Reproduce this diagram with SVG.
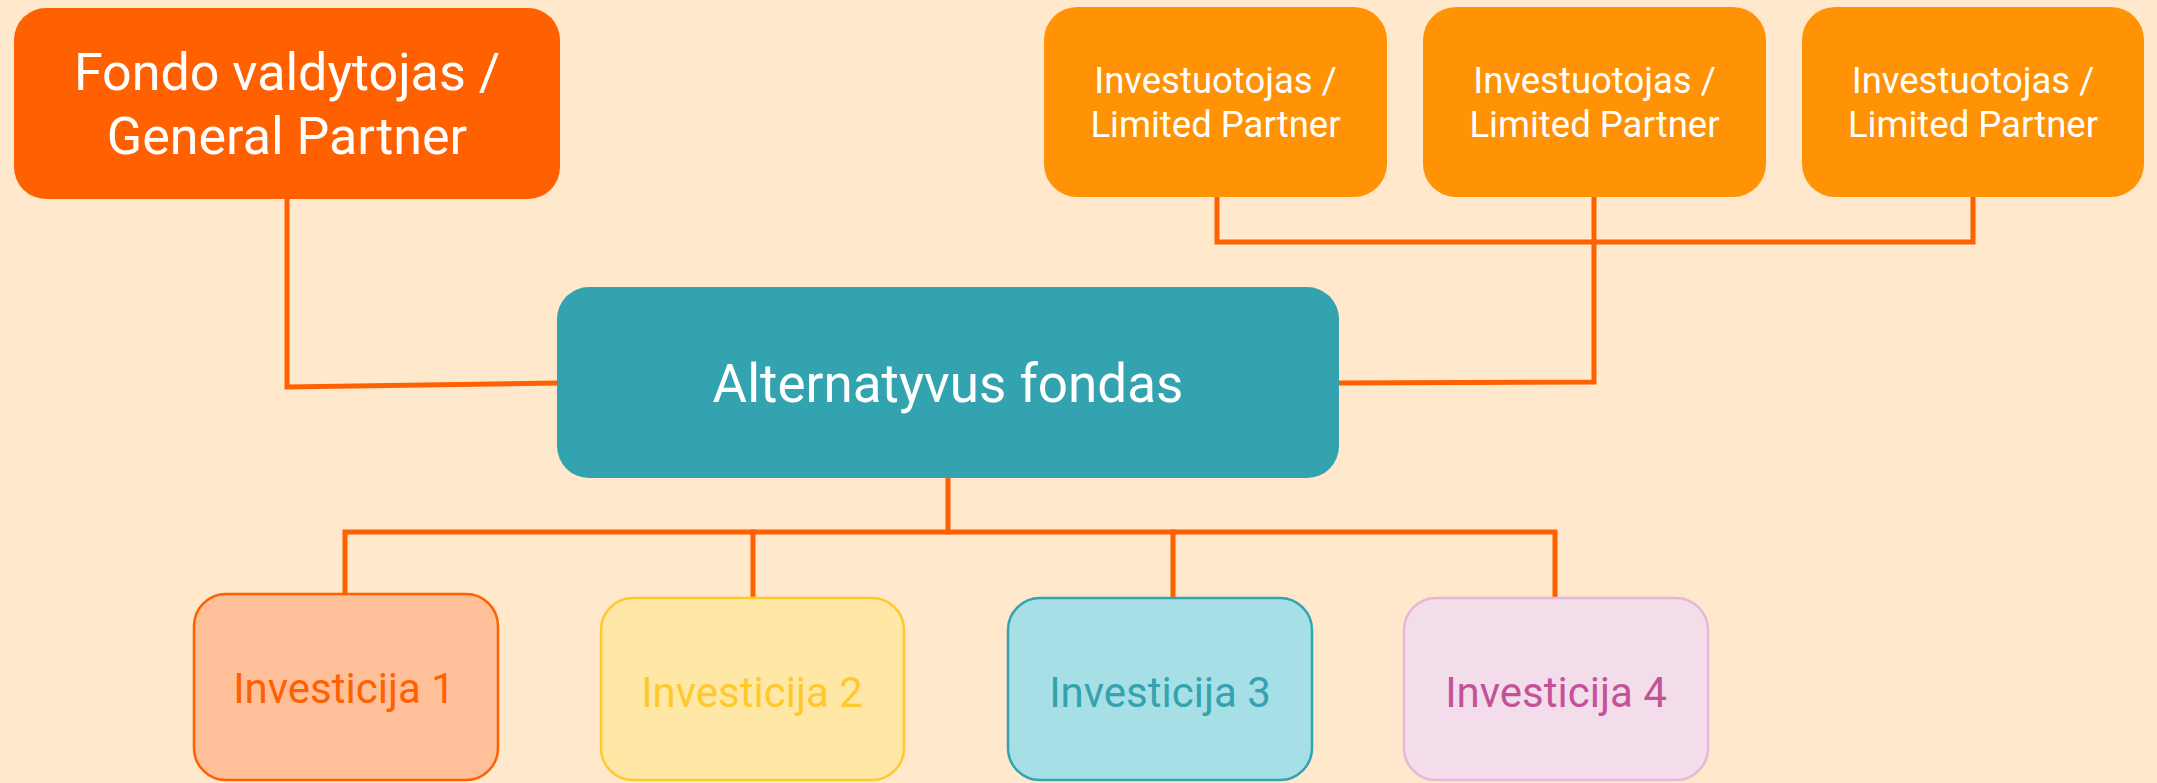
<svg xmlns="http://www.w3.org/2000/svg" width="2157" height="783" viewBox="0 0 2157 783">
<style>
.t{font-family:Roboto,"Liberation Sans",sans-serif;text-anchor:middle}
.w{fill:#ffffff}
.c{stroke:#FF6000;stroke-width:5;fill:none;stroke-linecap:square}
.lp{font-size:36.5px}
.inv{font-size:42px}
</style>
<rect x="0" y="0" width="2157" height="783" fill="#FFE8CC"/>
<g id="connectors">
<polyline class="c" points="287,199 287,387 557,383"/>
<polyline class="c" points="1339,383 1594,382 1594,197"/>
<polyline class="c" points="1217,197 1217,242 1973,242 1973,199"/>
<line class="c" x1="948" y1="478" x2="948" y2="532"/>
<polyline class="c" points="345,595 345,532 1555,532 1555,597"/>
<line class="c" x1="753" y1="532" x2="753" y2="597"/>
<line class="c" x1="1173" y1="532" x2="1173" y2="597"/>
</g>
<g id="gp">
<rect x="14" y="8" width="546" height="191" rx="32" fill="#FF6000"/>
<text class="t w" x="287" y="90" font-size="52">Fondo valdytojas /</text>
<text class="t w" x="287" y="154" font-size="52">General Partner</text>
</g>
<g id="lp1">
<rect x="1044" y="7" width="343" height="190" rx="33" fill="#FF9205"/>
<text class="t w lp" x="1215.5" y="93">Investuotojas /</text>
<text class="t w lp" x="1215.5" y="137">Limited Partner</text>
</g>
<g id="lp2">
<rect x="1423" y="7" width="343" height="190" rx="33" fill="#FF9205"/>
<text class="t w lp" x="1594.5" y="93">Investuotojas /</text>
<text class="t w lp" x="1594.5" y="137">Limited Partner</text>
</g>
<g id="lp3">
<rect x="1802" y="7" width="342" height="190" rx="33" fill="#FF9205"/>
<text class="t w lp" x="1973" y="93">Investuotojas /</text>
<text class="t w lp" x="1973" y="137">Limited Partner</text>
</g>
<g id="fund">
<rect x="557" y="287" width="782" height="191" rx="32" fill="#32A3AF"/>
<text class="t w" x="948" y="402" font-size="53">Alternatyvus fondas</text>
</g>
<g id="inv1">
<rect x="194" y="594" width="304" height="186" rx="32" fill="#FFBF99" stroke="#FF6000" stroke-width="2.5"/>
<text class="t inv" x="344" y="703" fill="#FF6000">Investicija 1</text>
</g>
<g id="inv2">
<rect x="601" y="598" width="303" height="182" rx="32" fill="#FFE7A6" stroke="#FFC92E" stroke-width="2.5"/>
<text class="t inv" x="752" y="707" fill="#FFC92E">Investicija 2</text>
</g>
<g id="inv3">
<rect x="1008" y="598" width="304" height="182" rx="32" fill="#A6DFE6" stroke="#32A3AF" stroke-width="2.5"/>
<text class="t inv" x="1160" y="707" fill="#32A3AF">Investicija 3</text>
</g>
<g id="inv4">
<rect x="1404" y="598" width="304" height="182" rx="32" fill="#F3DDEA" stroke="#E8B7D8" stroke-width="2.5"/>
<text class="t inv" x="1556" y="707" fill="#C4529A">Investicija 4</text>
</g>
</svg>
